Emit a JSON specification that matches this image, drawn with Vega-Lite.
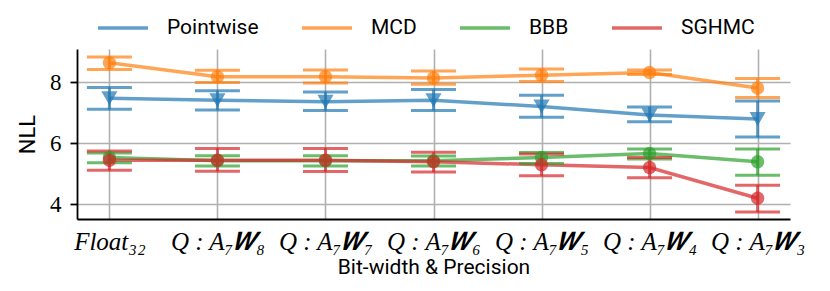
{
  "$schema": "https://vega.github.io/schema/vega-lite/v6.json",
  "width": 713,
  "height": 170,
  "autosize": {"type": "none"},
  "padding": {"left": 77, "top": 49, "right": 40, "bottom": 72},
  "background": "white",
  "data": {"values": [
    {"setting": "Float₃₂", "method": "Pointwise", "nll": 7.47, "lo": 7.11, "hi": 7.83},
    {"setting": "Q : A₇𝑾₈", "method": "Pointwise", "nll": 7.41, "lo": 7.09, "hi": 7.72},
    {"setting": "Q : A₇𝑾₇", "method": "Pointwise", "nll": 7.36, "lo": 7.07, "hi": 7.68},
    {"setting": "Q : A₇𝑾₆", "method": "Pointwise", "nll": 7.41, "lo": 7.07, "hi": 7.76},
    {"setting": "Q : A₇𝑾₅", "method": "Pointwise", "nll": 7.2, "lo": 6.85, "hi": 7.57},
    {"setting": "Q : A₇𝑾₄", "method": "Pointwise", "nll": 6.92, "lo": 6.7, "hi": 7.19},
    {"setting": "Q : A₇𝑾₃", "method": "Pointwise", "nll": 6.79, "lo": 6.2, "hi": 7.38},
    {"setting": "Float₃₂", "method": "MCD", "nll": 8.64, "lo": 8.42, "hi": 8.83},
    {"setting": "Q : A₇𝑾₈", "method": "MCD", "nll": 8.18, "lo": 7.99, "hi": 8.39},
    {"setting": "Q : A₇𝑾₇", "method": "MCD", "nll": 8.18, "lo": 7.97, "hi": 8.4},
    {"setting": "Q : A₇𝑾₆", "method": "MCD", "nll": 8.14, "lo": 7.93, "hi": 8.37},
    {"setting": "Q : A₇𝑾₅", "method": "MCD", "nll": 8.23, "lo": 8.02, "hi": 8.43},
    {"setting": "Q : A₇𝑾₄", "method": "MCD", "nll": 8.32, "lo": 8.25, "hi": 8.4},
    {"setting": "Q : A₇𝑾₃", "method": "MCD", "nll": 7.81, "lo": 7.5, "hi": 8.12},
    {"setting": "Float₃₂", "method": "BBB", "nll": 5.53, "lo": 5.36, "hi": 5.68},
    {"setting": "Q : A₇𝑾₈", "method": "BBB", "nll": 5.42, "lo": 5.25, "hi": 5.59},
    {"setting": "Q : A₇𝑾₇", "method": "BBB", "nll": 5.42, "lo": 5.25, "hi": 5.59},
    {"setting": "Q : A₇𝑾₆", "method": "BBB", "nll": 5.42, "lo": 5.25, "hi": 5.58},
    {"setting": "Q : A₇𝑾₅", "method": "BBB", "nll": 5.53, "lo": 5.33, "hi": 5.69},
    {"setting": "Q : A₇𝑾₄", "method": "BBB", "nll": 5.66, "lo": 5.48, "hi": 5.81},
    {"setting": "Q : A₇𝑾₃", "method": "BBB", "nll": 5.39, "lo": 4.95, "hi": 5.81},
    {"setting": "Float₃₂", "method": "SGHMC", "nll": 5.44, "lo": 5.11, "hi": 5.74},
    {"setting": "Q : A₇𝑾₈", "method": "SGHMC", "nll": 5.44, "lo": 5.08, "hi": 5.82},
    {"setting": "Q : A₇𝑾₇", "method": "SGHMC", "nll": 5.44, "lo": 5.07, "hi": 5.82},
    {"setting": "Q : A₇𝑾₆", "method": "SGHMC", "nll": 5.39, "lo": 5.05, "hi": 5.7},
    {"setting": "Q : A₇𝑾₅", "method": "SGHMC", "nll": 5.29, "lo": 4.93, "hi": 5.64},
    {"setting": "Q : A₇𝑾₄", "method": "SGHMC", "nll": 5.2, "lo": 4.86, "hi": 5.53},
    {"setting": "Q : A₇𝑾₃", "method": "SGHMC", "nll": 4.19, "lo": 3.74, "hi": 4.62}
  ]},
  "transform": [
    {"calculate": "indexof(['Pointwise','MCD','BBB','SGHMC'], datum.method)", "as": "ord"}
  ],
  "encoding": {
    "x": {
      "field": "setting", "type": "nominal", "sort": null,
      "scale": {"type": "point", "padding": 0.3},
      "axis": {
        "title": "Bit-width & Precision", "titleFont": "Roboto", "titleFontSize": 21,
        "titleFontWeight": "normal", "titleColor": "black", "titlePadding": 2,
        "labelFont": "Liberation Serif", "labelFontStyle": "italic", "labelFontSize": 25,
        "labelColor": "black", "labelAngle": 0, "labelPadding": 10,
        "grid": true, "gridColor": "#b0b0b0", "gridWidth": 1.6,
        "domainColor": "black", "domainWidth": 1.8, "ticks": false
      }
    },
    "color": {
      "field": "method", "type": "nominal",
      "scale": {"domain": ["Pointwise", "MCD", "BBB", "SGHMC"], "range": ["#1f77b4", "#ff7f0e", "#2ca02c", "#d62728"]},
      "legend": {
        "orient": "none", "legendX": 19, "legendY": -48, "direction": "horizontal",
        "title": null, "symbolType": "stroke", "symbolStrokeWidth": 3.5, "symbolSize": 2500,
        "symbolOpacity": 0.7, "labelFont": "Roboto", "labelFontSize": 21, "labelColor": "black",
        "columnPadding": 36, "labelOffset": 17
      }
    },
    "order": {"field": "ord", "type": "quantitative"}
  },
  "layer": [
    {
      "mark": {"type": "line", "strokeWidth": 3.5, "opacity": 0.7},
      "encoding": {
        "y": {
          "field": "nll", "type": "quantitative",
          "scale": {"domain": [3.51, 9.09], "nice": false, "zero": false},
          "axis": {
            "title": "NLL", "titleFont": "Roboto", "titleFontSize": 22, "titleFontWeight": "normal",
            "titleColor": "black", "titlePadding": 10,
            "values": [4, 6, 8], "labelFont": "Liberation Serif", "labelFontSize": 23, "labelColor": "black",
            "labelPadding": 9,
            "grid": true, "gridColor": "#b0b0b0", "gridWidth": 1.6,
            "domainColor": "black", "domainWidth": 1.8, "tickColor": "black", "tickSize": 7, "tickWidth": 1.8
          }
        },
        "detail": {"field": "method"}
      }
    },
    {
      "mark": {"type": "rule", "strokeWidth": 3, "opacity": 0.7},
      "encoding": {"y": {"field": "lo", "type": "quantitative"}, "y2": {"field": "hi"}}
    },
    {
      "mark": {"type": "tick", "size": 45, "thickness": 3, "opacity": 0.7},
      "encoding": {"y": {"field": "lo", "type": "quantitative"}}
    },
    {
      "mark": {"type": "tick", "size": 45, "thickness": 3, "opacity": 0.7},
      "encoding": {"y": {"field": "hi", "type": "quantitative"}}
    },
    {
      "transform": [{"filter": "datum.method === 'Pointwise'"}],
      "mark": {"type": "point", "shape": "triangle-down", "filled": true, "opacity": 0.7, "size": 260, "strokeWidth": 0},
      "encoding": {"y": {"field": "nll", "type": "quantitative"}}
    },
    {
      "transform": [{"filter": "datum.method !== 'Pointwise'"}],
      "mark": {"type": "point", "shape": "circle", "filled": true, "opacity": 0.7, "size": 180, "strokeWidth": 0},
      "encoding": {"y": {"field": "nll", "type": "quantitative"}}
    }
  ],
  "config": {"view": {"stroke": null}}
}
